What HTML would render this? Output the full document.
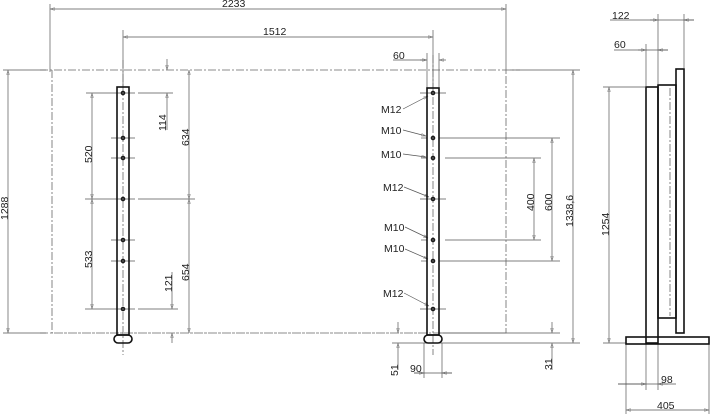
<!DOCTYPE html>
<html><head><meta charset="utf-8"><style>
html,body{margin:0;padding:0;background:#fff}
svg{display:block}
text{font-family:"Liberation Sans",sans-serif;font-size:10.5px;fill:#222}
</style></head><body>
<svg width="720" height="417" viewBox="0 0 720 417" xmlns="http://www.w3.org/2000/svg">
<defs>
<marker id="a" viewBox="0 0 10 6" refX="10" refY="3" markerWidth="7" markerHeight="4" orient="auto-start-reverse"><path d="M0,0 L10,3 L0,6 z" fill="none" stroke="#777" stroke-width="1"/></marker>
</defs>
<g stroke="#555" stroke-width="0.7" fill="none">
<line x1="50" y1="4" x2="50" y2="72"/><line x1="506" y1="4" x2="506" y2="72"/>
<line x1="50" y1="9" x2="506" y2="9" marker-start="url(#a)" marker-end="url(#a)"/>
<line x1="123" y1="30" x2="123" y2="88"/><line x1="433" y1="30" x2="433" y2="88"/>
<line x1="123" y1="37" x2="433" y2="37" marker-start="url(#a)" marker-end="url(#a)"/>
<line x1="427" y1="53" x2="427" y2="88"/><line x1="439" y1="53" x2="439" y2="88"/>
<line x1="393" y1="60" x2="427" y2="60"/><line x1="420" y1="60" x2="427" y2="60" marker-end="url(#a)"/><line x1="446" y1="60" x2="439" y2="60" marker-end="url(#a)"/>
<line x1="3" y1="70" x2="46" y2="70"/><line x1="3" y1="333" x2="46" y2="333"/>
<line x1="8" y1="70" x2="8" y2="333" marker-start="url(#a)" marker-end="url(#a)"/>
<line x1="86" y1="93" x2="135" y2="93"/><line x1="138" y1="93" x2="173" y2="93"/>
<line x1="111" y1="138" x2="135" y2="138"/><line x1="111" y1="158" x2="135" y2="158"/>
<line x1="85" y1="199" x2="135" y2="199"/><line x1="138" y1="199" x2="195" y2="199"/>
<line x1="111" y1="240" x2="135" y2="240"/><line x1="111" y1="261" x2="135" y2="261"/>
<line x1="85" y1="309" x2="135" y2="309"/><line x1="138" y1="309" x2="178" y2="309"/>
<line x1="92" y1="93" x2="92" y2="199" marker-start="url(#a)" marker-end="url(#a)"/>
<line x1="92" y1="199" x2="92" y2="309" marker-start="url(#a)" marker-end="url(#a)"/>
<line x1="189" y1="70" x2="189" y2="199" marker-start="url(#a)" marker-end="url(#a)"/>
<line x1="189" y1="199" x2="189" y2="333" marker-start="url(#a)" marker-end="url(#a)"/>
<line x1="167" y1="59" x2="167" y2="70" marker-end="url(#a)"/><line x1="167" y1="130" x2="167" y2="93" marker-end="url(#a)"/>
<line x1="172" y1="272" x2="172" y2="309" marker-end="url(#a)"/><line x1="172" y1="343" x2="172" y2="333" marker-end="url(#a)"/>
<line x1="439" y1="138" x2="560" y2="138"/><line x1="445" y1="158" x2="541" y2="158"/>
<line x1="445" y1="240" x2="541" y2="240"/><line x1="439" y1="261" x2="560" y2="261"/>
<line x1="534" y1="158" x2="534" y2="240" marker-start="url(#a)" marker-end="url(#a)"/>
<line x1="552" y1="138" x2="552" y2="261" marker-start="url(#a)" marker-end="url(#a)"/>
<line x1="510" y1="70" x2="580" y2="70"/>
<line x1="392" y1="343" x2="580" y2="343"/>
<line x1="439" y1="333" x2="560" y2="333"/>
<line x1="573" y1="70" x2="573" y2="343" marker-start="url(#a)" marker-end="url(#a)"/>
<line x1="552" y1="322" x2="552" y2="333" marker-end="url(#a)"/><line x1="552" y1="370" x2="552" y2="343" marker-end="url(#a)"/>
<line x1="398" y1="322" x2="398" y2="333" marker-end="url(#a)"/><line x1="398" y1="370" x2="398" y2="343" marker-end="url(#a)"/>
<line x1="424" y1="343" x2="424" y2="378"/><line x1="442" y1="343" x2="442" y2="378"/>
<line x1="414" y1="373" x2="424" y2="373" marker-end="url(#a)"/><line x1="452" y1="373" x2="442" y2="373" marker-end="url(#a)"/><line x1="414" y1="373" x2="452" y2="373"/>
<line x1="420" y1="93" x2="446" y2="93"/><line x1="420" y1="199" x2="446" y2="199"/><line x1="420" y1="309" x2="446" y2="309"/>
<line x1="421" y1="138" x2="427" y2="138"/><line x1="421" y1="158" x2="427" y2="158"/><line x1="421" y1="240" x2="427" y2="240"/><line x1="421" y1="261" x2="427" y2="261"/>
<line x1="403" y1="109" x2="428" y2="96" marker-end="url(#a)"/>
<line x1="403" y1="130" x2="426" y2="136" marker-end="url(#a)"/>
<line x1="403" y1="154" x2="426" y2="157" marker-end="url(#a)"/>
<line x1="404" y1="187" x2="429" y2="197" marker-end="url(#a)"/>
<line x1="405" y1="227" x2="428" y2="238" marker-end="url(#a)"/>
<line x1="405" y1="249" x2="428" y2="259" marker-end="url(#a)"/>
<line x1="404" y1="293" x2="429" y2="306" marker-end="url(#a)"/>
<line x1="658" y1="14" x2="658" y2="84"/><line x1="684" y1="14" x2="684" y2="68"/>
<line x1="610" y1="20" x2="658" y2="20"/><line x1="650" y1="20" x2="658" y2="20" marker-end="url(#a)"/><line x1="694" y1="20" x2="684" y2="20" marker-end="url(#a)"/><line x1="658" y1="20" x2="694" y2="20"/>
<line x1="646" y1="44" x2="646" y2="86"/>
<line x1="614" y1="50" x2="646" y2="50"/><line x1="638" y1="50" x2="646" y2="50" marker-end="url(#a)"/><line x1="668" y1="50" x2="658" y2="50" marker-end="url(#a)"/><line x1="646" y1="50" x2="668" y2="50"/>
<line x1="603" y1="87" x2="645" y2="87"/><line x1="603" y1="343" x2="626" y2="343"/>
<line x1="609" y1="87" x2="609" y2="343" marker-start="url(#a)" marker-end="url(#a)"/>
<line x1="626" y1="344" x2="626" y2="414"/><line x1="709" y1="344" x2="709" y2="414"/>
<line x1="646" y1="344" x2="646" y2="390"/><line x1="658" y1="344" x2="658" y2="390"/>
<line x1="618" y1="384" x2="646" y2="384" marker-end="url(#a)"/><line x1="668" y1="384" x2="658" y2="384" marker-end="url(#a)"/><line x1="618" y1="384" x2="676" y2="384"/>
<line x1="626" y1="410" x2="709" y2="410" marker-start="url(#a)" marker-end="url(#a)"/>
</g>
<g stroke="#666" stroke-width="0.8" fill="none" stroke-dasharray="8,2,2,2">
<path d="M40 70 H520 M52 70 V333 H506 V70 M40 333 H 420 M445 333 H506"/>
<line x1="123" y1="60" x2="123" y2="355"/><line x1="433" y1="55" x2="433" y2="355"/>
<line x1="670" y1="88" x2="670" y2="316"/>
</g>
<g stroke="#111" stroke-width="1.6" fill="none">
<rect x="117" y="87" width="12" height="248"/>
<rect x="427" y="88" width="12" height="247"/>
<rect x="114" y="335" width="18" height="8" rx="4"/>
<rect x="424" y="335" width="18" height="8" rx="4"/>
<rect x="646" y="87" width="12" height="256"/>
<rect x="658" y="85" width="18" height="233"/>
<rect x="676" y="69" width="8" height="264"/>
<rect x="626" y="337" width="83" height="7"/>
</g>
<g fill="#444" stroke="#111" stroke-width="1">
<circle cx="123" cy="93" r="1.8"/><circle cx="123" cy="138" r="1.8"/><circle cx="123" cy="158" r="1.8"/><circle cx="123" cy="199" r="1.8"/><circle cx="123" cy="240" r="1.8"/><circle cx="123" cy="261" r="1.8"/><circle cx="123" cy="309" r="1.8"/>
<circle cx="433" cy="93" r="1.8"/><circle cx="433" cy="138" r="1.8"/><circle cx="433" cy="158" r="1.8"/><circle cx="433" cy="199" r="1.8"/><circle cx="433" cy="240" r="1.8"/><circle cx="433" cy="261" r="1.8"/><circle cx="433" cy="309" r="1.8"/>
</g>
<text x="222" y="7">2233</text>
<text x="263" y="35">1512</text>
<text x="393" y="59">60</text>
<text x="381" y="113">M12</text><text x="381" y="134">M10</text><text x="381" y="158">M10</text>
<text x="383" y="191">M12</text><text x="384" y="231">M10</text><text x="384" y="252">M10</text><text x="383" y="297">M12</text>
<text x="410" y="372">90</text>
<text x="612" y="19">122</text><text x="614" y="48">60</text>
<text x="661" y="383">98</text><text x="657" y="409">405</text>
<g>
<text transform="translate(8,220) rotate(-90)">1288</text>
<text transform="translate(92,163) rotate(-90)">520</text>
<text transform="translate(92,268) rotate(-90)">533</text>
<text transform="translate(166,131) rotate(-90)">114</text>
<text transform="translate(189,146) rotate(-90)">634</text>
<text transform="translate(189,281) rotate(-90)">654</text>
<text transform="translate(172,292) rotate(-90)">121</text>
<text transform="translate(534,211) rotate(-90)">400</text>
<text transform="translate(552,211) rotate(-90)">600</text>
<text transform="translate(573,227) rotate(-90)">1338,6</text>
<text transform="translate(398,376) rotate(-90)">51</text>
<text transform="translate(552,370) rotate(-90)">31</text>
<text transform="translate(609,236) rotate(-90)">1254</text>
</g>
</svg>
</body></html>
